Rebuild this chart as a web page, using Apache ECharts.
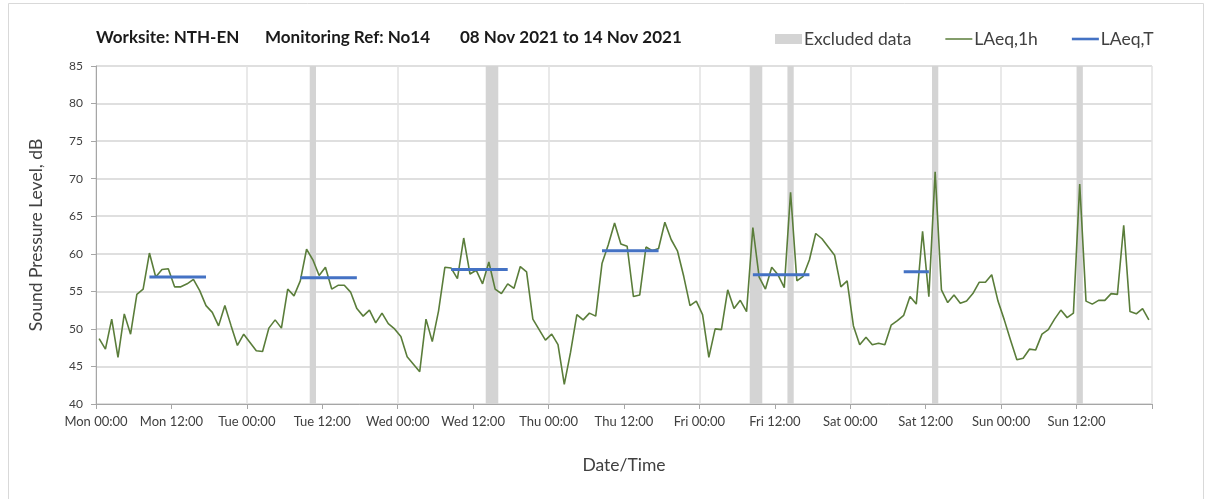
<!DOCTYPE html>
<html>
<head>
<meta charset="utf-8">
<script src="https://cdn.jsdelivr.net/npm/echarts@6/dist/echarts.min.js"></script>
<style>
html,body{margin:0;padding:0;background:#fff;}
#chart{width:1208px;height:499px;}
</style>
</head>
<body>
<div id="chart"></div>
<script>
// Hourly LAeq,1h values, Mon 00:00 .. Sun 23:00 (each plotted at the middle of its hour)
const laeq1h = [
  48.7, 47.3, 51.3, 46.2, 52.0, 49.3, 54.6, 55.3, 60.1, 56.9, 57.9, 58.0,
  55.6, 55.6, 56.0, 56.6, 55.1, 53.1, 52.2, 50.4, 53.1, 50.4, 47.8, 49.3,
  48.2, 47.1, 47.0, 50.1, 51.2, 50.1, 55.3, 54.4, 56.4, 60.6, 59.2, 57.1,
  58.2, 55.3, 55.8, 55.8, 54.9, 52.7, 51.7, 52.5, 50.8, 52.1, 50.7, 50.0,
  49.0, 46.3, 45.3, 44.3, 51.3, 48.3, 52.4, 58.2, 58.1, 56.7, 62.1, 57.3,
  57.8, 56.0, 58.9, 55.3, 54.7, 56.0, 55.4, 58.3, 57.6, 51.3, 49.9, 48.5,
  49.3, 47.9, 42.6, 46.9, 51.9, 51.2, 52.1, 51.7, 58.7, 61.2, 64.1, 61.3,
  61.0, 54.3, 54.5, 60.9, 60.4, 60.7, 64.2, 61.9, 60.4, 57.0, 53.1, 53.7,
  51.9, 46.2, 50.0, 49.9, 55.2, 52.7, 53.8, 52.3, 63.5, 56.9, 55.3, 58.2,
  57.2, 55.5, 68.2, 56.4, 57.0, 59.2, 62.7, 62.0, 60.9, 59.8, 55.6, 56.4,
  50.4, 47.9, 48.9, 47.9, 48.1, 47.9, 50.5, 51.1, 51.8, 54.3, 53.3, 63.0,
  54.3, 70.9, 55.2, 53.5, 54.5, 53.4, 53.7, 54.7, 56.2, 56.2, 57.2, 53.7,
  51.2, 48.5, 45.9, 46.1, 47.3, 47.2, 49.3, 49.9, 51.3, 52.5, 51.5, 52.1,
  69.3, 53.7, 53.3, 53.8, 53.8, 54.7, 54.6, 63.8, 52.3, 52.0, 52.7, 51.2
];
// LAeq,T periods (hour index of first and last hour) and values
const laeqTStart = [8, 32, 56, 80, 104, 128];
const laeqTEnd   = [17, 41, 65, 89, 113, 132];
const laeqTValue = [56.9, 56.8, 57.9, 60.4, 57.2, 57.6];
// Excluded data periods (hours from Mon 00:00)
const excludedStart = [34, 62, 104, 110, 133, 156];
const excludedEnd   = [35, 64, 106, 111, 134, 157];
// Tick labels
const dayNames = ['Mon', 'Tue', 'Wed', 'Thu', 'Fri', 'Sat', 'Sun'];
const timeLabels = ['00:00', '12:00'];
const yTicks = [40, 45, 50, 55, 60, 65, 70, 75, 80, 85];

const FONT = 'Lato';
const TXT = '#404040';
const GREEN = '#5a7d3a';
const BLUE = '#4472c4';
const GREY = '#d4d4d4';

const lineData = laeq1h.map((v, i) => [i + 0.5, v]);
const tData = [];
laeqTValue.forEach((v, k) => {
  tData.push([laeqTStart[k] + 0.5, v]);
  tData.push([laeqTEnd[k] + 0.5, v]);
  tData.push([laeqTEnd[k] + 0.6, '-']);
});
const exclAreas = excludedStart.map((s, k) => [{xAxis: s}, {xAxis: excludedEnd[k]}]);

const titleStyle = {fontFamily: FONT, fontSize: 17, fontWeight: 'bold', color: '#1a1a1a'};

const chart = echarts.init(document.getElementById('chart'), null, {renderer: 'canvas'});
chart.setOption({
  animation: false,
  backgroundColor: '#ffffff',
  textStyle: {fontFamily: FONT},
  graphic: [{
    type: 'rect', left: 6, top: 1, silent: true,
    shape: {width: 1195, height: 496},
    style: {fill: 'none', stroke: '#d9d9d9', lineWidth: 1}
  }],
  title: [
    {text: 'Worksite: NTH-EN', left: 96, top: 29, padding: 0, textStyle: titleStyle},
    {text: 'Monitoring Ref: No14', left: 265, top: 29, padding: 0, textStyle: titleStyle},
    {text: '08 Nov 2021 to 14 Nov 2021', left: 460, top: 29, padding: 0, textStyle: titleStyle}
  ],
  legend: {
    left: 775, top: 30, padding: 0,
    itemWidth: 27, itemHeight: 10, itemGap: 34,
    textStyle: {fontFamily: FONT, fontSize: 17.5, color: TXT, padding: [0, 0, 0, -3]},
    data: [
      {name: 'Excluded data', icon: 'rect'},
      {name: 'LAeq,1h', icon: 'path://M0,0 L54,0 L54,3 L0,3 Z'},
      {name: 'LAeq,T', icon: 'path://M0,0 L27,0 L27,2.6 L0,2.6 Z'}
    ]
  },
  grid: {left: 96, right: 56, top: 66, bottom: 95, containLabel: false},
  xAxis: [{
    type: 'value', min: 0, max: 168, interval: 12,
    name: 'Date/Time', nameLocation: 'middle', nameGap: 52,
    nameTextStyle: {fontFamily: FONT, fontSize: 17.5, color: TXT},
    axisLine: {show: true, lineStyle: {color: '#a6a6a6', width: 1}},
    axisTick: {show: true, length: 5, lineStyle: {color: '#a6a6a6'}},
    axisLabel: {
      fontFamily: FONT, fontSize: 13, color: TXT, margin: 11,
      formatter: v => v >= 168 ? '' : dayNames[Math.floor(v / 24)] + ' ' + timeLabels[(v % 24) / 12]
    },
    splitLine: {show: false}
  }, {
    type: 'value', min: 0, max: 168, interval: 24, position: 'bottom',
    axisLine: {show: false}, axisTick: {show: false}, axisLabel: {show: false},
    splitLine: {show: true, lineStyle: {color: '#e2e2e2', width: 1.5}}
  }],
  yAxis: {
    type: 'value', min: yTicks[0], max: yTicks[yTicks.length - 1], interval: 5,
    name: 'Sound Pressure Level, dB', nameLocation: 'middle', nameGap: 51,
    nameTextStyle: {fontFamily: FONT, fontSize: 17.5, color: TXT},
    axisLine: {show: true, lineStyle: {color: '#a6a6a6', width: 1}},
    axisTick: {show: true, length: 5, lineStyle: {color: '#a6a6a6'}},
    axisLabel: {fontFamily: FONT, fontSize: 12, color: TXT, margin: 13},
    splitLine: {show: true, lineStyle: {color: '#d4d4d4', width: 1.5}}
  },
  series: [{
    name: 'Excluded data', type: 'line', data: [], z: 1,
    color: GREY, itemStyle: {color: GREY}, lineStyle: {color: GREY},
    markArea: {silent: true, itemStyle: {color: GREY}, data: exclAreas}
  }, {
    name: 'LAeq,1h', type: 'line', data: lineData, z: 3,
    symbol: 'none', color: GREEN, itemStyle: {color: GREEN},
    lineStyle: {color: GREEN, width: 1.6}
  }, {
    name: 'LAeq,T', type: 'line', data: tData, z: 4,
    symbol: 'none', color: BLUE, itemStyle: {color: BLUE}, connectNulls: false,
    lineStyle: {color: BLUE, width: 3, cap: 'butt'}
  }]
});
</script>
</body>
</html>
